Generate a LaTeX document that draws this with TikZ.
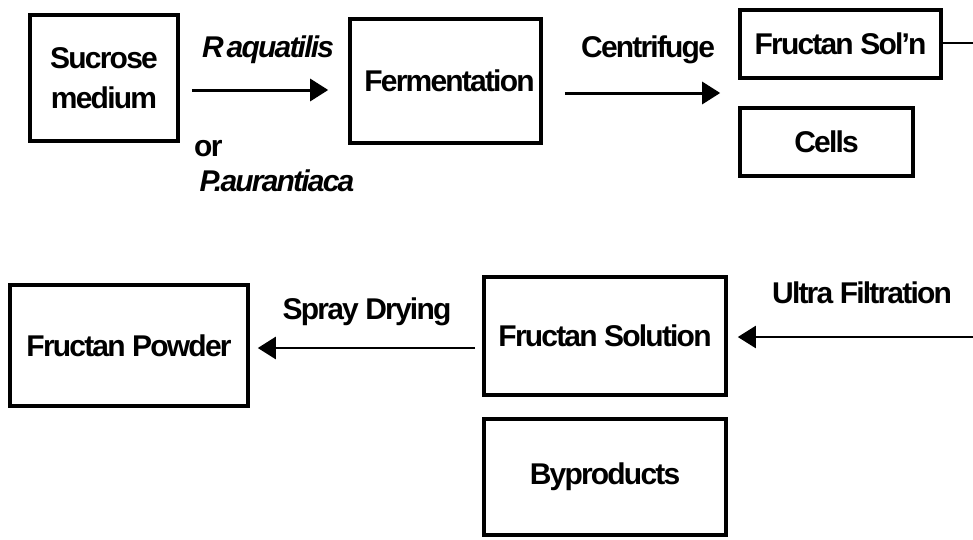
\documentclass[tikz,border=0pt]{standalone}
\usepackage{fontspec}
\setmainfont{Liberation Sans}[LetterSpace=-6]
\usetikzlibrary{arrows.meta,calc}
\begin{document}
\begin{tikzpicture}[x=1pt,y=-1pt,
  box/.style={draw,line width=3.6pt,inner sep=0pt,align=center,font=\fontsize{30}{40}\selectfont\bfseries},
  lbl/.style={inner sep=0pt,font=\fontsize{30}{34}\selectfont\bfseries},
  ilbl/.style={inner sep=0pt,font=\fontsize{30}{34}\selectfont\bfseries\itshape},
  arr/.style={line width=3pt,-{Triangle[length=18pt,width=22pt]}},
  thinarr/.style={line width=2.2pt,-{Triangle[length=18pt,width=22pt]}}]
\useasboundingbox (0,0) rectangle (973,539);
\node[box,minimum width=148pt,minimum height=126pt] (suc) at (104,78) {Sucrose\\medium};
\node[box,minimum width=191pt,minimum height=124pt] (fer) at (445.5,81) {\hspace*{8pt}Fermentation};
\node[box,minimum width=201pt,minimum height=68pt] (fsoln) at (840.5,44) {\raisebox{-3pt}{Fructan Sol’n}};
\node[box,minimum width=173pt,minimum height=68pt] (cells) at (826.5,142) {Cells};
\node[box,minimum width=238pt,minimum height=121pt] (fpow) at (129,345.5) {\raisebox{-4pt}{Fructan Powder}};
\node[box,minimum width=242pt,minimum height=118pt] (fsol) at (605,336) {Fructan Solution};
\node[box,minimum width=242pt,minimum height=116pt] (byp) at (605,477) {\raisebox{-5pt}{Byproducts}};

\node[ilbl] (lraq) at (268,50) {R\hspace{3pt}aquatilis};
\node[lbl,anchor=west] (lor) at (194,149) {or};
\node[ilbl] (lpaur) at (277,181) {P.aurantiaca};
\node[lbl] (lcent) at (648,50) {Centrifuge};
\node[lbl] (lspray) at (367,312) {Spray Drying};
\node[lbl] (lultra) at (862,293) {Ultra Filtration};

\coordinate (offr) at (973,43);
\coordinate (offu) at (973,337);

\draw[arr,shorten <=12pt,shorten >=20pt] ([yshift=-12pt]suc.east) -- ([yshift=-12pt]suc.east -| fer.west);
\draw[arr,shorten <=22pt,shorten >=18pt] ([yshift=-12pt]fer.east) -- ([yshift=-12pt]fer.east -| fsoln.west);
\draw[line width=2pt] (fsoln.east |- offr) -- (offr);
\draw[thinarr,shorten >=10pt] (offu) -- (offu -| fsol.east);
\draw[arr,line width=2.6pt,shorten <=7pt,shorten >=8pt] ([yshift=-12pt]fsol.west) -- ([yshift=-12pt]fsol.west -| fpow.east);
\end{tikzpicture}
\end{document}
